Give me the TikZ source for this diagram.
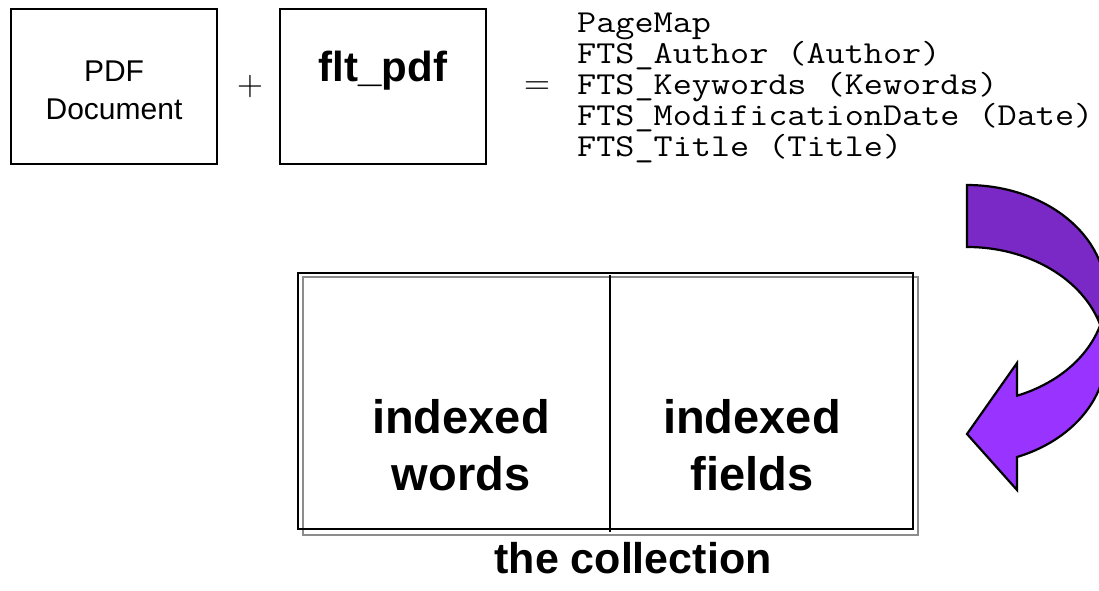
\documentclass[tikz,border=0pt]{standalone}
\usepackage{fontspec}
\newfontfamily\arial{Liberation Sans}
\newfontfamily\couriermono[FakeStretch=1.16]{Latin Modern Mono}
\newfontfamily\lmfont{Latin Modern Roman}
\definecolor{darkpurple}{HTML}{7A29C6}
\definecolor{lightpurple}{HTML}{9933FF}
\definecolor{shadowgray}{HTML}{8C8C8C}
\tikzset{
  srcbox/.style={draw=black, line width=2.4pt, minimum width=206pt, minimum height=155pt, inner sep=0pt},
  plaintext/.style={inner sep=0pt, anchor=base},
  boxlabel/.style={plaintext, font=\arial\fontsize{30}{34}\selectfont},
  filtlabel/.style={plaintext, font=\arial\bfseries\fontsize{42}{46}\selectfont},
  opsign/.style={inner sep=0pt, font=\lmfont\fontsize{36}{40}\selectfont},
  fieldline/.style={inner sep=0pt, anchor=base west, font=\couriermono\fontsize{32}{34}\selectfont},
  bigword/.style={plaintext, font=\arial\bfseries\fontsize{47}{52}\selectfont},
  caption/.style={plaintext, font=\arial\bfseries\fontsize{43}{48}\selectfont},
  arrowpart/.style={draw=black, line width=2.2pt, line join=miter},
}
\begin{document}
\begin{tikzpicture}[x=1pt, y=-1pt]
\useasboundingbox (0,0) rectangle (1099,590);
\clip (0,0) rectangle (1099,590);
% top row
\node[srcbox] (pdf) at (114,86.5) {};
\node[boxlabel] (pdfa) at (114,81) {PDF};
\node[boxlabel] (pdfb) at (114,119) {Document};
\node[opsign] (plus) at (250,87) {+};
\node[srcbox] (flt) at (383,86.5) {};
\node[filtlabel] (fltlabel) at (383,81) {flt\_pdf};
\node[opsign] (equal) at (537,88) {=};
\node[fieldline] (f1) at (577,32) {PageMap};
\node[fieldline] (f2) at (577,63) {FTS\_Author (Author)};
\node[fieldline] (f3) at (577,94) {FTS\_Keywords (Kewords)};
\node[fieldline] (f4) at (577,125) {FTS\_ModificationDate (Date)};
\node[fieldline] (f5) at (577,156) {FTS\_Title (Title)};
% curved arrow: back band
\filldraw[arrowpart, fill=darkpurple] (967,185) arc[start angle=-90, end angle=16.52, x radius=139, y radius=109]
   arc[start angle=-16.52, end angle=-90, x radius=139, y radius=109] -- cycle;
% front band with head
\filldraw[arrowpart, fill=lightpurple] (1100.3,325) arc[start angle=16.52, end angle=68.9, x radius=139, y radius=109]
   -- (1017,363) -- (967,434) -- (1017,490) -- (1017,457)
   arc[start angle=68.9, end angle=-16.52, x radius=139, y radius=109] -- cycle;
% collection
\draw[shadowgray, line width=2.2pt] (303,277) rectangle (918,535);
\node[draw=black, line width=2.4pt, minimum width=615pt, minimum height=256pt, inner sep=0pt] (coll) at (605.5,401) {};
\coordinate (divtop) at (610,275);
\coordinate (divbot) at (610,532);
\draw[black, line width=1.8pt] (divtop) -- (divbot);
\node[bigword] (w1) at (461,433) {indexed};
\node[bigword] (w2) at (461,490) {words};
\node[bigword] (w3) at (752,433) {indexed};
\node[bigword] (w4) at (752,490) {fields};
\node[caption] (cap) at (633,573) {the collection};
\end{tikzpicture}
\end{document}
